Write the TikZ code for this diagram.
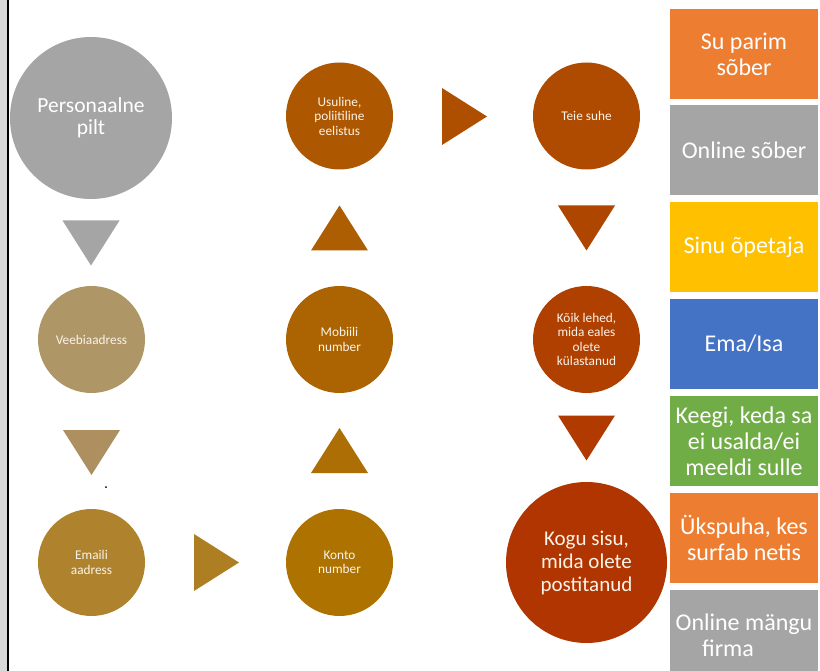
\documentclass[tikz,border=0pt]{standalone}
\usepackage{fontspec}
\setmainfont{Carlito}
\definecolor{cgray}{HTML}{A5A5A5}
\definecolor{ctan}{HTML}{AE9666}
\definecolor{ctantri}{HTML}{AE9060}
\definecolor{cemail}{HTML}{AF832D}
\definecolor{ctriA}{HTML}{AE7F22}
\definecolor{ckonto}{HTML}{AD7200}
\definecolor{ctriB}{HTML}{AD6E05}
\definecolor{cmob}{HTML}{AC6402}
\definecolor{ctriC}{HTML}{AD5D02}
\definecolor{cusu}{HTML}{AD5700}
\definecolor{ctriD}{HTML}{AE4F00}
\definecolor{cteie}{HTML}{AE4B00}
\definecolor{ctriE}{HTML}{AE4600}
\definecolor{ckoik}{HTML}{AF4000}
\definecolor{ctriF}{HTML}{B03A00}
\definecolor{ckogu}{HTML}{B03500}
\definecolor{borange}{HTML}{ED7D31}
\definecolor{bgray}{HTML}{A5A5A5}
\definecolor{byellow}{HTML}{FFC000}
\definecolor{bblue}{HTML}{4472C4}
\definecolor{bgreen}{HTML}{70AD47}
\definecolor{stripgray}{HTML}{D9D9D9}
\definecolor{ctext}{HTML}{FBF3E8}
\newcommand\triDown[3]{\fill[#3] (#1-28.5,#2-22.5) -- (#1+28.5,#2-22.5) -- (#1,#2+22.5) -- cycle;}
\newcommand\triUp[3]{\fill[#3] (#1-28.5,#2+22.5) -- (#1+28.5,#2+22.5) -- (#1,#2-22.5) -- cycle;}
\newcommand\triRight[3]{\fill[#3] (#1-22.5,#2-28.5) -- (#1-22.5,#2+28.5) -- (#1+22.5,#2) -- cycle;}
\tikzset{
  bigc/.style={circle, inner sep=0pt, minimum size=162pt, text=ctext, align=center,
    font=\fontsize{21.5}{21.5}\selectfont},
  smallc/.style={circle, inner sep=0pt, minimum size=107pt, text=ctext, align=center,
    font=\fontsize{13.3}{14.5}\selectfont},
  kogu/.style={circle, inner sep=0pt, minimum size=161pt, text=ctext, align=center,
    font=\fontsize{21}{23}\selectfont},
  sidebox/.style={rectangle, inner sep=0pt, minimum width=148pt, minimum height=90pt,
    text=white, align=center, font=\fontsize{24}{26}\selectfont},
}
\begin{document}
\begin{tikzpicture}[x=1pt, y=-1pt]
\useasboundingbox (0,0) rectangle (820,671);
\fill[white] (0,0) rectangle (820,671);
\fill[stripgray] (0,0) rectangle (6.5,671);
\fill[black] (6.5,0) rectangle (9,671);
% circles
\node[bigc, fill=cgray, text=white] (pers) at (91,118) {Personaalne\\pilt};
\node[smallc, fill=ctan] (veeb) at (91.5,339.5) {Veebiaadress};
\node[smallc, fill=cemail] (email) at (91.5,562.5) {Emaili\\aadress};
\node[smallc, fill=ckonto] (konto) at (339.5,562.5) {Konto\\number};
\node[smallc, fill=cmob] (mob) at (339.5,339.5) {Mobiili\\number};
\node[smallc, fill=cusu] (usu) at (339.5,116) {Usuline,\\poliitiline\\eelistus};
\node[smallc, fill=cteie] (teie) at (586.5,116) {Teie suhe};
\node[smallc, fill=ckoik] (koik) at (586.5,339.5) {Kõik lehed,\\mida eales\\olete\\külastanud};
\node[kogu, fill=ckogu] (kogusisu) at (586.5,562.5) {Kogu sisu,\\mida olete\\postitanud};
% triangles
\triDown{91}{243}{cgray}
\triDown{91.5}{452.5}{ctantri}
\triRight{216.5}{562.5}{ctriA}
\triUp{339.5}{450.5}{ctriB}
\triUp{339.5}{228}{ctriC}
\triRight{464.5}{116.5}{ctriD}
\triDown{586.5}{228}{ctriE}
\triDown{586.5}{438}{ctriF}
\fill[black] (106,487) circle (1pt);
% side boxes
\node[sidebox, fill=borange] (b1) at (744,54) {Su parim\\sõber};
\node[sidebox, fill=bgray] (b2) at (744,150.5) {Online sõber};
\node[sidebox, fill=byellow] (b3) at (744,247.5) {Sinu õpetaja};
\node[sidebox, fill=bblue] (b4) at (744,344) {Ema/Isa};
\node[sidebox, fill=bgreen] (b5) at (744,441) {Keegi, keda sa\\ei usalda/ei\\meeldi sulle};
\node[sidebox, fill=borange] (b6) at (744,538) {Ükspuha, kes\\surfab netis};
\node[sidebox, fill=bgray] (b7) at (744,635) {Online mängu\\firma\hspace*{32pt}};
\end{tikzpicture}
\end{document}
